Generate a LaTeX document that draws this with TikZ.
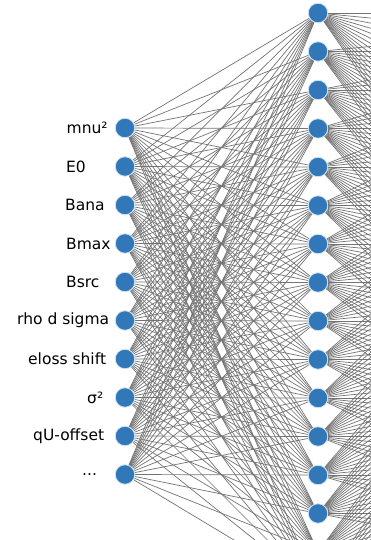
\documentclass[tikz,border=0pt]{standalone}
\usepackage{fontspec}
\setmainfont{DejaVu Sans}
\usetikzlibrary{backgrounds}
\definecolor{nnblue}{RGB}{50,120,184}
\definecolor{nnedge}{RGB}{205,228,245}
\begin{document}
\begin{tikzpicture}[x=1pt,y=-1pt,
  neuron/.style={circle,fill=nnblue,draw=nnedge,line width=0.8pt,minimum size=19.5pt,inner sep=0pt},
  synapse/.style={draw=black!55,line width=0.7pt},
  feature/.style={anchor=west,inner sep=0pt,font=\fontsize{15.5}{18}\selectfont}]
\useasboundingbox (0,0) rectangle (371,540);

% input layer
\foreach \i in {0,...,9}
  \node[neuron] (in\i) at (125,{128+38.5*\i}) {};
% hidden layer (runs on below the lower edge)
\foreach \k in {0,...,15}
  \node[neuron] (h\k) at (318,{13+38.5*\k}) {};
% following layer, off to the right
\foreach \k in {0,...,15}
  \coordinate (o\k) at (718,{13+38.5*\k});

% connections behind the neurons
\begin{pgfonlayer}{background}
  \clip (0,0) rectangle (371,540);
  \foreach \i in {0,...,9}
    \foreach \k in {0,...,15}
      \draw[synapse] (in\i) -- (h\k);
  \foreach \k in {0,...,15}
    \foreach \m in {0,...,15}
      \draw[synapse] (h\k) -- (o\m);
\end{pgfonlayer}

% input parameter names
\node[feature] (l0) at (66.5,128)   {mnu²};
\node[feature] (l1) at (66,166.5)   {E0};
\node[feature] (l2) at (65,205)     {Bana};
\node[feature] (l3) at (66,243.5)   {Bmax};
\node[feature] (l4) at (66,282)     {Bsrc};
\node[feature] (l5) at (17,320.5)   {rho d sigma};
\node[feature] (l6) at (28,359)     {eloss shift};
\node[feature] (l7) at (87,397.5)   {σ²};
\node[feature] (l8) at (33,436)     {qU-offset};
\node[feature] (l9) at (82,474.5)   {...};
\end{tikzpicture}
\end{document}
